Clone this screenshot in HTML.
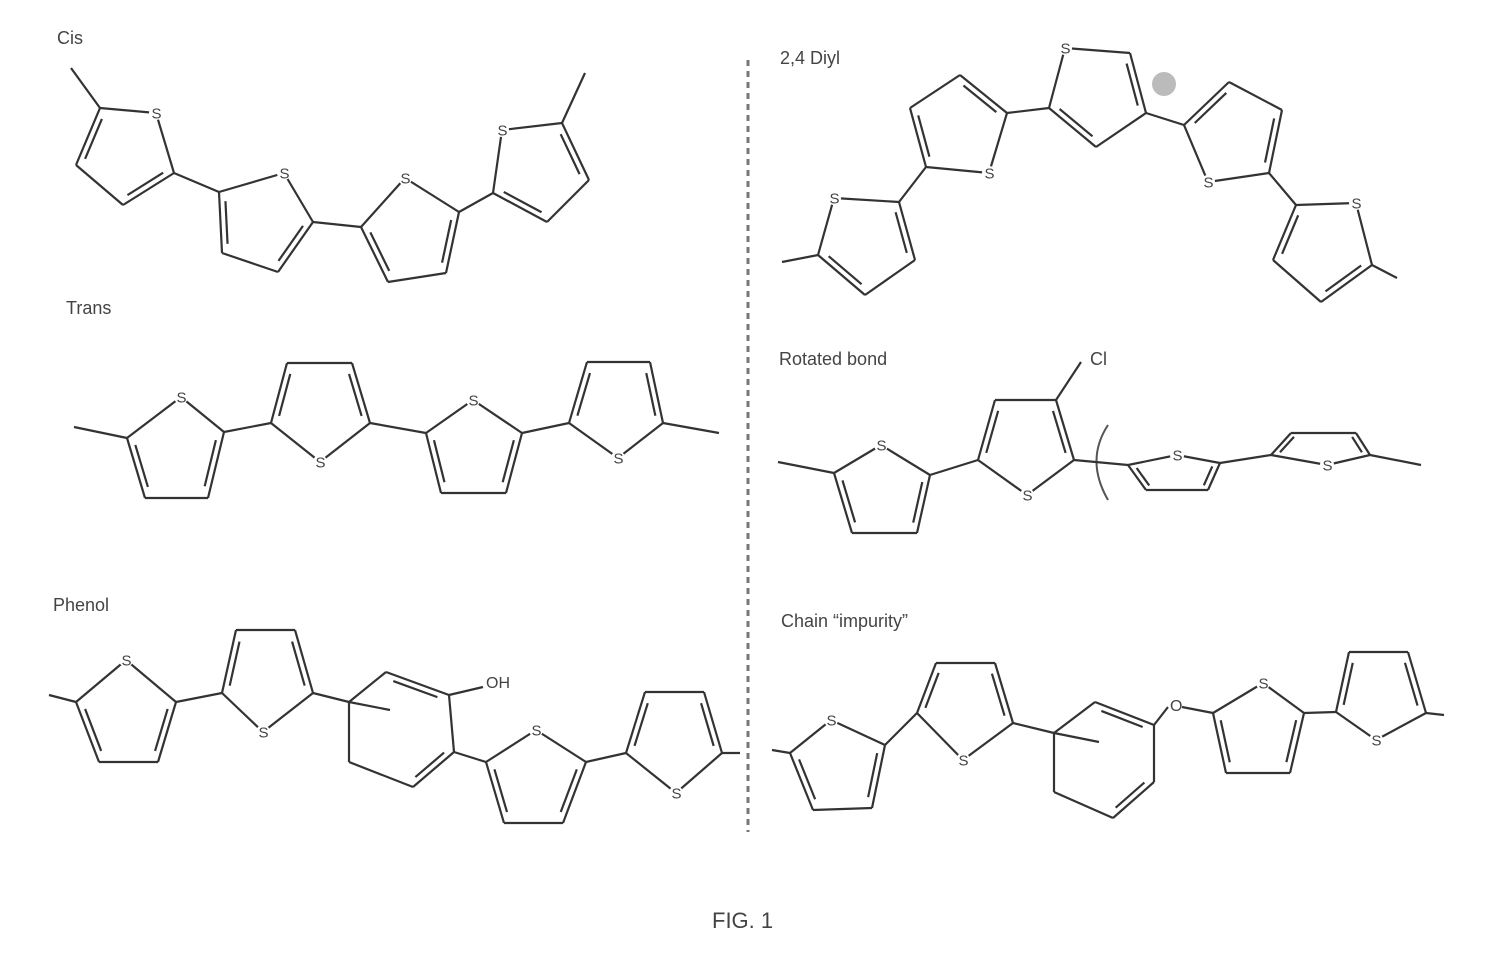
<!DOCTYPE html>
<html><head><meta charset="utf-8"><style>
html,body{margin:0;padding:0;background:#fff;}
svg{display:block;}
text{font-family:"Liberation Sans",sans-serif;fill:#444;}
</style></head><body>
<svg id="s" width="1493" height="972" viewBox="0 0 1493 972" xmlns="http://www.w3.org/2000/svg">
<g font-size="18" fill="#444">
<text x="57" y="44">Cis</text>
<text x="66" y="314">Trans</text>
<text x="53" y="611">Phenol</text>
<text x="780" y="64">2,4 Diyl</text>
<text x="779" y="365">Rotated bond</text>
<text x="781" y="627">Chain “impurity”</text>
<text x="712" y="928" font-size="22">FIG. 1</text>
<text x="1090" y="365" font-size="18">Cl</text>
<text x="486" y="688" font-size="16">OH</text>
</g>
<line x1="748" y1="60" x2="748" y2="832" stroke="#777" stroke-width="3" stroke-dasharray="6,5"/>
<circle cx="1164" cy="84" r="12" fill="#bbb"/>
<path d="M1108,425 Q1085,460 1108,500" fill="none" stroke="#555" stroke-width="2"/>
<g id="g" stroke="#333" stroke-width="2.2" fill="none" stroke-linejoin="round"></g>
<g id="lab" font-size="15"></g>
</svg>
<script>
var NS="http://www.w3.org/2000/svg",g=document.getElementById('g'),lab=document.getElementById('lab');
function L(a,b){var l=document.createElementNS(NS,'line');l.setAttribute('x1',a[0]);l.setAttribute('y1',a[1]);l.setAttribute('x2',b[0]);l.setAttribute('y2',b[1]);g.appendChild(l);}
var Sp=[];
// ring: pts, sIndex (-1 none), doubles pairs
function R(p,si,d){var cx=0,cy=0;p.forEach(function(q){cx+=q[0];cy+=q[1];});cx/=p.length;cy/=p.length;
for(var i=0;i<p.length;i++){var a=p[i],b=p[(i+1)%p.length];L(a,b);}
if(si>=0)Sp.push(p[si]);
d.forEach(function(k){var a=p[k[0]],b=p[k[1]];var mx=(a[0]+b[0])/2,my=(a[1]+b[1])/2;var dx=cx-mx,dy=cy-my,n=Math.hypot(dx,dy);var o=6;var ox=dx/n*o,oy=dy/n*o;
var t=0.15;L([a[0]+(b[0]-a[0])*t+ox,a[1]+(b[1]-a[1])*t+oy],[b[0]+(a[0]-b[0])*t+ox,b[1]+(a[1]-b[1])*t+oy]);});}
// Cis
L([71,68],[100,108]);
R([[100,108],[156,113],[174,173],[123,205],[76,165]],1,[[0,4],[2,3]]);
L([174,173],[219,192]);
R([[219,192],[284,173],[313,222],[278,272],[222,253]],1,[[0,4],[1,2],[2,3]].slice(0,1).concat([[2,3]]));
L([313,222],[361,227]);
R([[361,227],[405,178],[459,212],[446,273],[388,282]],1,[[0,4],[2,3]]);
L([459,212],[493,193]);
R([[493,193],[502,130],[562,123],[589,180],[547,222]],1,[[2,3],[0,4]]);
L([562,123],[585,73]);
// Trans
L([74,427],[127,438]);
R([[127,438],[181,397],[224,432],[208,498],[145,498]],1,[[0,4],[2,3]]);
L([224,432],[271,423]);
R([[271,423],[287,363],[352,363],[370,423],[320,462]],4,[[0,1],[2,3]]);
L([370,423],[426,433]);
R([[426,433],[473,400],[522,433],[506,493],[441,493]],1,[[0,4],[2,3]]);
L([522,433],[569,423]);
R([[569,423],[587,362],[650,362],[663,423],[618,458]],4,[[0,1],[2,3]]);
L([663,423],[719,433]);
// 2,4 Diyl
L([782,262],[818,255]);
R([[834,198],[899,202],[915,260],[865,295],[818,255]],0,[[1,2],[3,4]]);
L([899,202],[926,167]);
R([[926,167],[989,173],[1007,113],[960,75],[910,108]],1,[[0,4],[2,3]]);
L([1007,113],[1049,108]);
R([[1049,108],[1065,48],[1130,53],[1146,113],[1096,147]],1,[[0,4],[2,3]]);
L([1146,113],[1184,125]);
R([[1184,125],[1229,82],[1282,110],[1269,173],[1208,182]],4,[[0,1],[2,3]]);
L([1269,173],[1296,205]);
R([[1296,205],[1356,203],[1372,265],[1321,302],[1273,260]],1,[[0,4],[2,3]]);
L([1372,265],[1397,278]);
// Rotated bond
L([778,462],[834,473]);
R([[834,473],[881,445],[930,475],[917,533],[852,533]],1,[[0,4],[2,3]]);
L([930,475],[978,460]);
R([[978,460],[995,400],[1056,400],[1074,460],[1027,495]],4,[[0,1],[2,3]]);
L([1056,400],[1081,362]);
L([1074,460],[1128,465]);
R([[1128,465],[1177,455],[1220,463],[1208,490],[1146,490]],1,[[0,4],[2,3]]);
L([1220,463],[1271,455]);
R([[1271,455],[1291,433],[1356,433],[1370,455],[1327,465]],4,[[0,1],[2,3]]);
L([1370,455],[1421,465]);
// Phenol
L([49,695],[76,702]);
R([[76,702],[126,660],[176,702],[158,762],[99,762]],1,[[0,4],[2,3]]);
L([176,702],[222,693]);
R([[222,693],[236,630],[295,630],[313,693],[263,732]],4,[[0,1],[2,3]]);
L([313,693],[349,702]);L([349,702],[390,710]);
R([[349,702],[386,672],[449,695],[454,752],[413,787],[349,762]],-1,[[1,2],[3,4]]);
L([449,695],[483,687]);
L([454,752],[486,762]);
R([[486,762],[536,730],[586,762],[563,823],[504,823]],1,[[0,4],[2,3]]);
L([586,762],[626,753]);
R([[626,753],[645,692],[704,692],[722,753],[676,793]],4,[[0,1],[2,3]]);
L([722,753],[740,753]);
// Chain impurity
L([772,750],[790,753]);
R([[790,753],[831,720],[885,745],[872,808],[813,810]],1,[[0,4],[2,3]]);
L([885,745],[917,713]);
R([[917,713],[936,663],[995,663],[1013,723],[963,760]],4,[[0,1],[2,3]]);
L([1013,723],[1054,733]);L([1054,733],[1099,742]);
R([[1054,733],[1095,702],[1154,725],[1154,782],[1113,818],[1054,792]],-1,[[1,2],[3,4]]);
L([1154,725],[1168,707]);L([1182,707],[1213,713]);
R([[1213,713],[1263,683],[1304,713],[1290,773],[1226,773]],1,[[0,4],[2,3]]);
L([1304,713],[1336,712]);
R([[1336,712],[1349,652],[1408,652],[1426,713],[1376,740]],4,[[0,1],[2,3]]);
L([1426,713],[1444,715]);
// S labels
Sp.forEach(function(p){var c=document.createElementNS(NS,'circle');c.setAttribute('cx',p[0]);c.setAttribute('cy',p[1]);c.setAttribute('r',7);c.setAttribute('fill','#fff');lab.appendChild(c);
var t=document.createElementNS(NS,'text');t.setAttribute('x',p[0]-4.5);t.setAttribute('y',p[1]+5.5);t.textContent='S';lab.appendChild(t);});
var c=document.createElementNS(NS,'circle');c.setAttribute('cx',1175);c.setAttribute('cy',705);c.setAttribute('r',7);c.setAttribute('fill','#fff');lab.appendChild(c);
var t=document.createElementNS(NS,'text');t.setAttribute('x',1170);t.setAttribute('y',711);t.setAttribute('font-size','16');t.textContent='O';lab.appendChild(t);
</script>
</body></html>
